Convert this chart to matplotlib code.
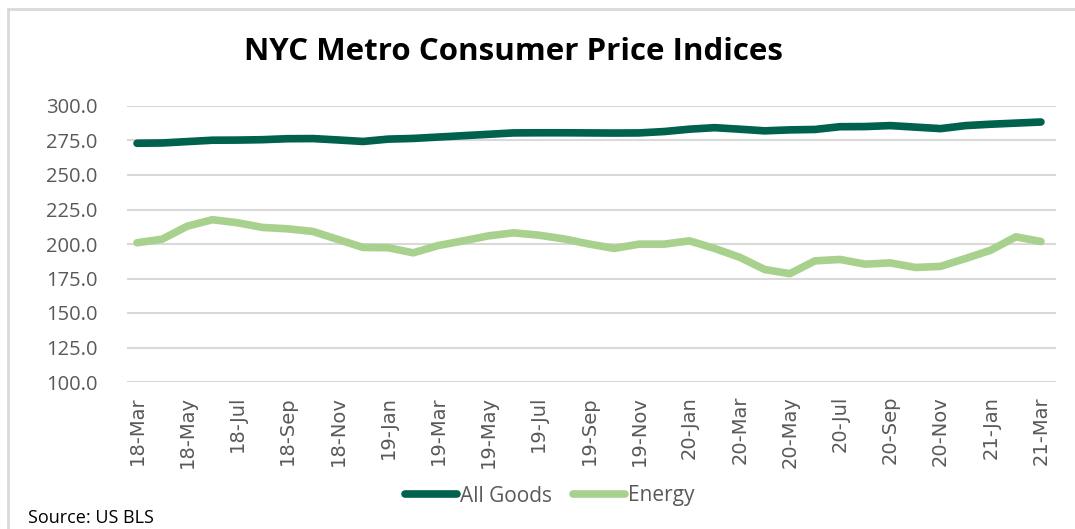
import matplotlib
matplotlib.use("Agg")
import matplotlib.pyplot as plt
from matplotlib.patches import Rectangle

# monthly data, Mar 2018 - Mar 2021
months = ["18-Mar", "18-Apr", "18-May", "18-Jun", "18-Jul", "18-Aug", "18-Sep", "18-Oct",
          "18-Nov", "18-Dec", "19-Jan", "19-Feb", "19-Mar", "19-Apr", "19-May", "19-Jun",
          "19-Jul", "19-Aug", "19-Sep", "19-Oct", "19-Nov", "19-Dec", "20-Jan", "20-Feb",
          "20-Mar", "20-Apr", "20-May", "20-Jun", "20-Jul", "20-Aug", "20-Sep", "20-Oct",
          "20-Nov", "20-Dec", "21-Jan", "21-Feb", "21-Mar"]

all_goods = [273.0, 273.2, 274.2, 275.2, 275.3, 275.6, 276.3, 276.4, 275.4, 274.3,
             276.0, 276.5, 277.5, 278.5, 279.5, 280.5, 280.6, 280.6, 280.5, 280.4,
             280.5, 281.5, 283.2, 284.3, 283.2, 282.0, 282.7, 283.0, 285.0, 285.1,
             285.8, 284.7, 283.6, 285.8, 286.8, 287.6, 288.4]

energy = [200.9, 203.5, 212.9, 217.6, 215.4, 212.0, 211.0, 209.1, 203.3, 197.5,
          197.3, 193.6, 198.9, 202.3, 205.9, 208.1, 206.4, 203.7, 200.0, 196.8,
          199.9, 199.9, 202.3, 196.8, 190.4, 181.5, 178.5, 187.8, 188.8, 185.4,
          186.3, 183.0, 183.8, 189.5, 195.5, 205.2, 201.8]

yticks = [100, 125, 150, 175, 200, 225, 250, 275, 300]

plt.rcParams['font.family'] = ['Open Sans', 'DejaVu Sans']

fig = plt.figure(figsize=(10.75, 5.29), dpi=100)
ax = fig.add_axes([127 / 1075, 1 - 382 / 529, (1056 - 127) / 1075, (382 - 106) / 529])

# light frame around the chart area (cut off on right / bottom like the source)
fig.patches.append(Rectangle((8 / 1075, -0.05), 1.2, 1 - 9 / 529 + 0.05,
                             transform=fig.transFigure, fill=False,
                             edgecolor="#d9d9d9", linewidth=2))

x = list(range(len(months)))
ax.plot(x, all_goods, color="#00614d", linewidth=5.5, solid_capstyle="round",
        label="All Goods", zorder=3)
ax.plot(x, energy, color="#a9d18e", linewidth=5.5, solid_capstyle="round",
        label="Energy", zorder=3)

ax.set_ylim(100, 300)
ax.set_yticks(yticks)
ax.set_yticklabels([f"{v:.1f}" for v in yticks], fontsize=14.5)
ax.set_xlim(-0.4, 36.6)
ax.set_xticks(x[::2])
ax.set_xticklabels(months[::2], rotation=90, fontsize=14,
                   family=['DejaVu Sans'])

ax.grid(axis="y", color="#d9d9d9", linewidth=1.5)
ax.set_axisbelow(True)
for s in ax.spines.values():
    s.set_visible(False)
ax.tick_params(axis="both", length=0, colors="#595959")
ax.tick_params(axis="y", pad=21)
ax.tick_params(axis="x", pad=10)

fig.text(513 / 1075, 1 - 52 / 529, "NYC Metro Consumer Price Indices",
         ha="center", va="center", fontsize=22.5, fontweight="bold", color="black")

leg = fig.legend(loc="center", bbox_to_anchor=(550 / 1075, 1 - 496 / 529), ncol=2,
                 frameon=False, fontsize=15, handlelength=2.5, columnspacing=1.0,
                 handletextpad=0.15)
for t in leg.get_texts():
    t.set_color("#595959")

fig.text(28 / 1075, 1 - 518 / 529, "Source: US BLS", ha="left", va="center",
         fontsize=13, color="black")

fig.savefig("out.png", dpi=100)
